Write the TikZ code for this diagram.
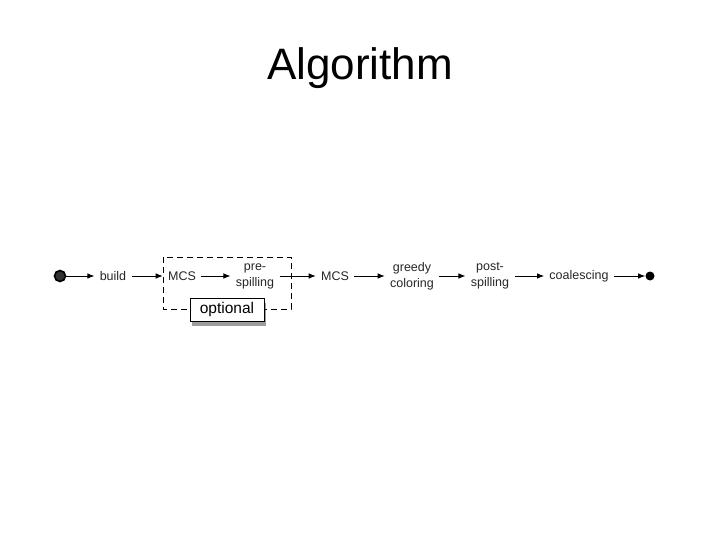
\documentclass[tikz,border=0pt]{standalone}
\usepackage{fontspec}
\setmainfont{Liberation Sans}
\usetikzlibrary{shadows,arrows.meta}
\begin{document}
\begin{tikzpicture}[x=1pt, y=-1pt, >={Latex[length=7pt,width=5.5pt]}, line width=0.8pt,
  stage/.style={font=\fontsize{12.5}{16}\selectfont, text=black!85, align=center, inner sep=5pt}]
	\useasboundingbox (0,0) rectangle (720,540);

	% Title
	\node[font=\fontsize{44}{50}\selectfont] (title) at (360,68) {Algorithm};

	% Start and end points
	\node[circle, draw, line width=1.6pt, fill=black!80, minimum size=11pt, inner sep=0pt] (start) at (60,276) {};
	\node[circle, fill=black, minimum size=9pt, inner sep=0pt] (stop) at (650,276) {};

	% Stages
	\foreach \name/\x/\label in {build/113/build, mcsa/182/MCS, pre/255/{pre-\\spilling},
	    mcsb/335/MCS, greedy/412/{greedy\\coloring}, post/490/{post-\\spilling}, coal/579/coalescing} {
		\node[stage] (\name) at (\x,276) {\label};
	}

	% Optional part
	\draw[dash pattern=on 6pt off 4pt] (163,257) rectangle (291,309);
	\node[draw, fill=white, drop shadow={shadow xshift=2pt, shadow yshift=-5pt, opacity=0.55, fill=black!70},
	  font=\fontsize{15.5}{18}\selectfont, minimum width=74pt, minimum height=23pt, inner sep=0pt] (opt) at (227,309.5) {optional};

	% Flow
	\foreach \a/\b in {start/build, build/mcsa, mcsa/pre, pre/mcsb, mcsb/greedy, greedy/post, post/coal, coal/stop} {
		\draw[->] (\a) -- (\b);
	}
\end{tikzpicture}
\end{document}
